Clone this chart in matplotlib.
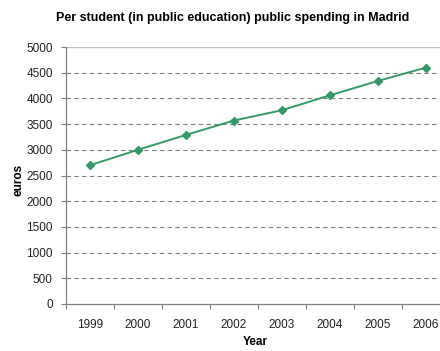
import matplotlib
matplotlib.use("Agg")
import matplotlib.pyplot as plt
import numpy as np

years = ["1999", "2000", "2001", "2002", "2003", "2004", "2005", "2006"]
spending = [2700, 3000, 3290, 3570, 3770, 4060, 4340, 4600]
y_ticks = [0, 500, 1000, 1500, 2000, 2500, 3000, 3500, 4000, 4500, 5000]

plt.rcParams['font.family'] = ['Liberation Sans', 'DejaVu Sans']

W, H = 440, 351
fig = plt.figure(figsize=(W / 100, H / 100), dpi=100)
ax = fig.add_axes([66 / W, (H - 304) / H, (450 - 66) / W, (304 - 47) / H])

x = np.arange(len(years))
ax.plot(x, spending, color="#339966", lw=1.4, marker="D", ms=4.5,
        mec="#339966", mfc="#339966", zorder=3)

ax.set_xlim(-0.5, len(years) - 0.5)
ax.set_ylim(0, 5000)

# category labels at centres, tick marks at category boundaries
ax.set_xticks(x)
ax.set_xticklabels(years, fontsize=8.5, color="#222222")
ax.set_xticks(np.arange(-0.5, len(years), 1), minor=True)
ax.tick_params(axis="x", which="major", length=0, pad=11)
ax.tick_params(axis="x", which="minor", length=3.5, width=0.8, color="#808080", direction="out")

ax.set_yticks(y_ticks)
ax.set_yticklabels([str(v) for v in y_ticks], fontsize=8.5, color="#222222")
ax.tick_params(axis="y", length=3.5, width=0.8, color="#808080", direction="out", pad=6)

for v in y_ticks[1:-1]:
    ax.axhline(v, color="#808080", lw=0.8, ls=(0, (4, 3)), zorder=1)
ax.axhline(5000, color="#c0c0c0", lw=1.0, zorder=1)

for s in ["top", "right"]:
    ax.spines[s].set_visible(False)
for s in ["left", "bottom"]:
    ax.spines[s].set_color("#808080")
    ax.spines[s].set_linewidth(0.9)

fig.text(233 / W, 1 - 18 / H, "Per student (in public education) public spending in Madrid",
         ha="center", va="center", fontsize=9, fontweight="bold")
fig.text(255 / W, 1 - 342 / H, "Year", ha="center", va="center",
         fontsize=8.5, fontweight="bold")
fig.text(18 / W, 1 - 180 / H, "euros", ha="center", va="center", rotation=90,
         fontsize=8.5, fontweight="bold")

fig.savefig("out.png", dpi=100)
